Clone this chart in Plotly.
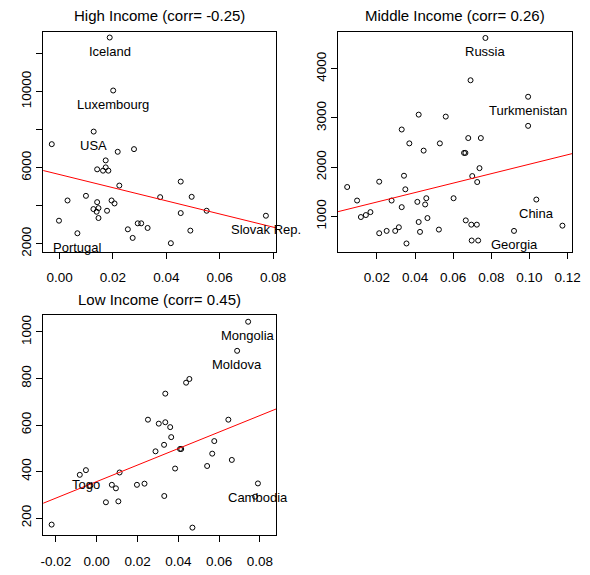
import plotly.graph_objects as go

# ---------------- data ----------------
hi_x = [0.0188, 0.0201, 0.0128, -0.0029, 0.0218, 0.0279, 0.0173, 0.0141, 0.0163, 0.0173,
        0.0183, 0.0224, 0.0454, 0.0030, 0.0099, 0.0141, 0.0195, 0.0206, 0.0377, 0.0495,
        0.0551, 0.0127, 0.0139, 0.0146, 0.0178, 0.0454, 0.0773, -0.0002, 0.0146, 0.0256,
        0.0293, 0.0306, 0.0330, 0.0490, 0.0067, 0.0274, 0.0417]
hi_y = [12835, 10052, 7896, 7235, 6835, 6974, 6383, 5913, 5843, 6017,
        5843, 5061, 5270, 4278, 4522, 4191, 4278, 4122, 4452, 4470,
        3739, 3826, 3687, 3878, 3739, 3617, 3478, 3217, 3357, 2765,
        3078, 3078, 2835, 2696, 2557, 2313, 2035]
hi_names = {0: "Iceland", 1: "Luxembourg", 2: "USA", 26: "Slovak Rep.", 34: "Portugal"}
hi_fit = (5640, -34500)   # intercept, slope
hi_title = "High Income (corr= -0.25)"

mid_x = [0.0769, 0.0691, 0.0993, 0.0993, 0.0419, 0.0561, 0.0330, 0.0370, 0.0530, 0.0445,
         0.0679, 0.0745, 0.0657, 0.0664, 0.0738, 0.0700, 0.0726, 0.0342, 0.0349, 0.0212,
         0.0044, 0.0096, 0.0277, 0.0459, 0.0602, 0.0412, 0.0453, 0.0330, 0.1036, 0.0116,
         0.0142, 0.0166, 0.0465, 0.0419, 0.0666, 0.0695, 0.0724, 0.1173, 0.0919, 0.0525,
         0.0315, 0.0296, 0.0251, 0.0212, 0.0426, 0.0355, 0.0697, 0.0731]
mid_y = [4624, 3765, 3430, 2839, 3067, 3027, 2765, 2483, 2483, 2336,
         2591, 2591, 2289, 2289, 1980, 1819, 1698, 1826, 1550, 1705,
         1597, 1322, 1322, 1369, 1369, 1295, 1242, 1188, 1342, 987,
         1027, 1087, 966, 886, 919, 832, 832, 812, 705, 732,
         779, 705, 705, 658, 685, 450, 510, 510]
mid_names = {0: "Russia", 2: "Turkmenistan", 28: "China", 38: "Georgia"}
mid_fit = (1100, 9600)
mid_title = "Middle Income (corr= 0.26)"

low_x = [0.0742, 0.0688, 0.0454, 0.0438, 0.0336, 0.0251, 0.0304, 0.0336, 0.0360, 0.0365,
         0.0645, 0.0576, 0.0288, 0.0330, 0.0408, 0.0414, 0.0566, 0.0662, 0.0541, 0.0384,
         0.0112, -0.0053, -0.0083, -0.0032, 0.0074, 0.0094, 0.0197, 0.0234, 0.0045, 0.0106,
         0.0331, 0.0790, 0.0776, -0.0221, 0.0469]
low_y = [1044, 919, 798, 782, 735, 623, 606, 612, 591, 548,
         623, 531, 487, 515, 497, 497, 477, 450, 424, 413,
         396, 406, 386, 339, 343, 328, 343, 348, 268, 272,
         295, 349, 292, 172, 159]
low_names = {0: "Mongolia", 1: "Moldova", 21: "Togo", 31: "Cambodia"}
low_fit = (357, 3550)
low_title = "Low Income (corr= 0.45)"

# ---------------- layout helpers ----------------
W, H = 590, 575
FONT = "Liberation Sans, Arial, sans-serif"

panels = [
    dict(x=hi_x, y=hi_y, names=hi_names, fit=hi_fit, title=hi_title,
         box=(42, 280, 32, 254), xr=[-0.00613, 0.0812], yr=[1584, 13139],
         xt=[0.00, 0.02, 0.04, 0.06, 0.08], yt=[2000, 4000, 6000, 8000, 10000, 12000],
         ytxt=["2000", "", "6000", "", "10000", ""]),
    dict(x=mid_x, y=mid_y, names=mid_names, fit=mid_fit, title=mid_title,
         box=(343, 582, 32, 254), xr=[-0.0004, 0.1224], yr=[281, 4751],
         xt=[0.02, 0.04, 0.06, 0.08, 0.10, 0.12], yt=[1000, 2000, 3000, 4000],
         ytxt=["1000", "2000", "3000", "4000"]),
    dict(x=low_x, y=low_y, names=low_names, fit=low_fit, title=low_title,
         box=(42, 280, 318, 540), xr=[-0.02626, 0.088], yr=[126, 1072],
         xt=[-0.02, 0.00, 0.02, 0.04, 0.06, 0.08], yt=[200, 400, 600, 800, 1000],
         ytxt=["200", "400", "600", "800", "1000"]),
]

fig = go.Figure()
annotations = []
layout_axes = {}

for i, p in enumerate(panels, start=1):
    sfx = "" if i == 1 else str(i)
    xa, ya = "x" + sfx, "y" + sfx
    x0, x1, y0, y1 = p["box"]
    fig.add_trace(go.Scatter(
        x=p["x"], y=p["y"], mode="markers", xaxis=xa, yaxis=ya,
        marker=dict(symbol="circle-open", size=5, color="black", line=dict(width=1, color="black")),
        showlegend=False, hoverinfo="skip"))
    b0, b1 = p["fit"]
    lx = p["xr"]
    fig.add_trace(go.Scatter(
        x=lx, y=[b0 + b1 * v for v in lx], mode="lines", xaxis=xa, yaxis=ya,
        line=dict(color="red", width=1), showlegend=False, hoverinfo="skip"))
    for idx, nm in p["names"].items():
        annotations.append(dict(
            x=p["x"][idx], y=p["y"][idx], xref=xa, yref=ya, text=nm, showarrow=False,
            yshift=-14, font=dict(family=FONT, size=13, color="black")))
    annotations.append(dict(
        x=(x0 + x1) / 2 / W, y=1 - (y0 - 16) / H, xref="paper", yref="paper",
        text=p["title"], showarrow=False, xanchor="center", yanchor="middle",
        font=dict(family=FONT, size=15, color="black")))
    axis_common = dict(showgrid=False, zeroline=False, showline=True, linecolor="black",
                       linewidth=1, mirror=True, ticks="outside", ticklen=6, tickcolor="black",
                       tickfont=dict(family=FONT, size=13.5, color="black"))
    layout_axes["xaxis" + sfx] = dict(
        axis_common, domain=[x0 / W, x1 / W], range=p["xr"], anchor=ya,
        tickvals=p["xt"], ticktext=["%.2f" % v for v in p["xt"]], ticklabelstandoff=7)
    layout_axes["yaxis" + sfx] = dict(
        axis_common, domain=[1 - y1 / H, 1 - y0 / H], range=p["yr"], anchor=xa,
        tickvals=p["yt"], ticktext=p["ytxt"], tickangle=-90, ticklabelstandoff=0)

fig.update_layout(
    width=W, height=H, autosize=False,
    margin=dict(l=0, r=0, t=0, b=0),
    paper_bgcolor="white", plot_bgcolor="white",
    annotations=annotations, **layout_axes)

fig.write_html("out.html", config={"displayModeBar": False},
               post_script="document.body.style.margin='0';document.body.style.overflow='hidden';")
